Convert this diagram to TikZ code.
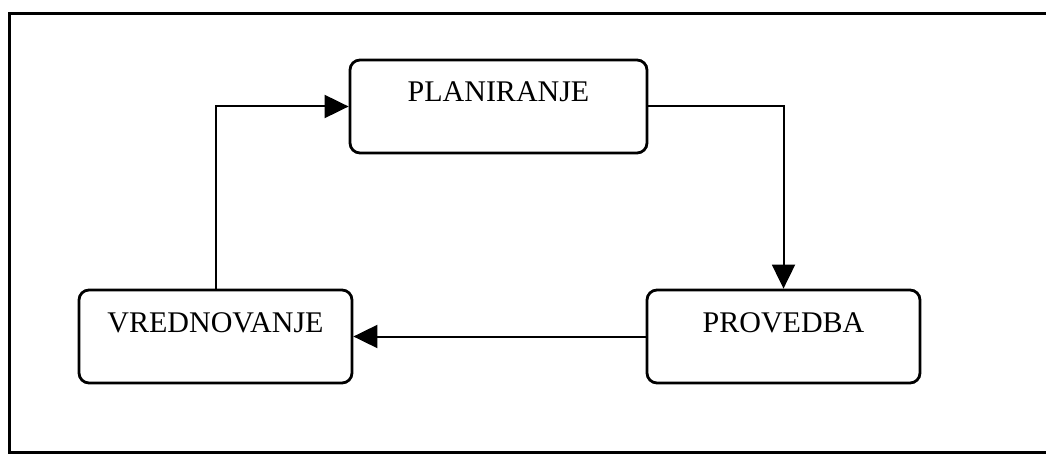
\documentclass[tikz,border=0pt]{standalone}
\usepackage{fontspec}
\setmainfont{Liberation Serif}
\usetikzlibrary{arrows.meta}
\begin{document}
\begin{tikzpicture}[x=1pt,y=-1pt,
  box/.style={draw, line width=2.8pt, rounded corners=10pt, inner sep=0pt,
    text height=42pt, text depth=51pt, minimum height=93pt,
    font=\fontsize{30}{36}\selectfont},
  conn/.style={line width=2pt, -{Triangle[length=24pt,width=23pt]}},
  frame/.style={line width=3pt}]
\useasboundingbox (0,0) rectangle (1046,454);
\draw[frame] (1060,14) -- (9,14) -- (9,452) -- (1060,452);
\node[box, minimum width=297pt] (plan) at (498.5,106.5) {PLANIRANJE};
\node[box, minimum width=273pt] (prov) at (783.5,336.5) {PROVEDBA};
\node[box, minimum width=273pt] (vred) at (215.5,336.5) {VREDNOVANJE};
\draw[conn] (vred.north) |- (plan.west);
\draw[conn] (plan.east) -| (prov.north);
\draw[conn] (prov.west) -- (vred.east);
\end{tikzpicture}
\end{document}
